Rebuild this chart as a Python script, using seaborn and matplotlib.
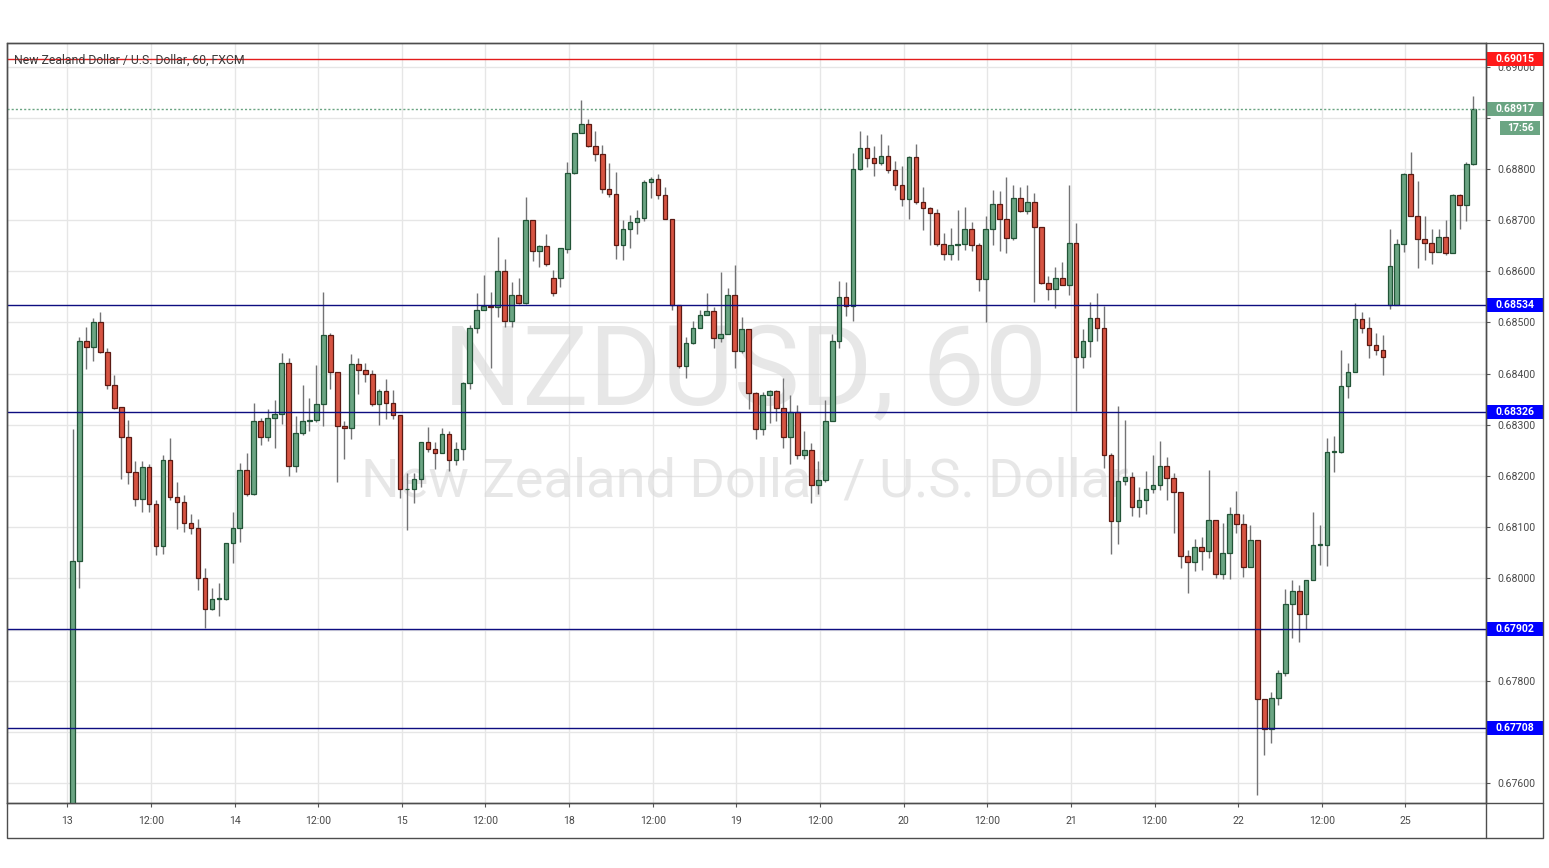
import numpy as np
import matplotlib
matplotlib.use("Agg")
import matplotlib.pyplot as plt
import matplotlib.transforms as mtransforms
from matplotlib.patches import Rectangle
from matplotlib.lines import Line2D
import seaborn as sns

sns.set_theme(style="white")
plt.rcParams['font.family'] = ['Roboto', 'DejaVu Sans']

# ---------------- data (hourly candles, index 0 = 13th 01:00) ----------------
opens = [0.6752, 0.68034, 0.68463, 0.68453, 0.68500, 0.68443, 0.68378, 0.68334, 0.68276, 0.68208,
         0.68155, 0.68217, 0.68145, 0.68063, 0.68232, 0.68159, 0.68150, 0.68109, 0.68099, 0.68001,
         0.67940, 0.67960, 0.67960, 0.68070, 0.68099, 0.68212, 0.68165, 0.68308, 0.68276, 0.68313,
         0.68321, 0.68420, 0.68220, 0.68284, 0.68308, 0.68310, 0.68340, 0.68475, 0.68403, 0.68297,
         0.68293, 0.68418, 0.68408, 0.68399, 0.68340, 0.68367, 0.68342, 0.68320, 0.68174, 0.68175,
         0.68195, 0.68266, 0.68252, 0.68244, 0.68283, 0.68231, 0.68252, 0.68381, 0.68489, 0.68524,
         0.68533, 0.68531, 0.68601, 0.68503, 0.68554, 0.68539, 0.68700, 0.68640, 0.68650, 0.68587,
         0.68587, 0.68643, 0.68793, 0.68870, 0.68888, 0.68844, 0.68829, 0.68761, 0.68751, 0.68651,
         0.68683, 0.68697, 0.68705, 0.68775, 0.68780, 0.68749, 0.68703, 0.68534, 0.68415, 0.68460,
         0.68490, 0.68514, 0.68523, 0.68470, 0.68477, 0.68554, 0.68444, 0.68487, 0.68362, 0.68291,
         0.68358, 0.68366, 0.68332, 0.68276, 0.68326, 0.68242, 0.68250, 0.68182, 0.68193, 0.68307,
         0.68464, 0.68550, 0.68533, 0.68800, 0.68841, 0.68822, 0.68812, 0.68826, 0.68798, 0.68769,
         0.68741, 0.68824, 0.68735, 0.68724, 0.68714, 0.68653, 0.68634, 0.68651, 0.68653, 0.68683,
         0.68651, 0.68585, 0.68683, 0.68732, 0.68703, 0.68665, 0.68743, 0.68718, 0.68735, 0.68686,
         0.68578, 0.68565, 0.68587, 0.68573, 0.68656, 0.68433, 0.68464, 0.68508, 0.68490, 0.68241,
         0.68112, 0.68191, 0.68199, 0.68140, 0.68153, 0.68174, 0.68182, 0.68220, 0.68197, 0.68169,
         0.68043, 0.68032, 0.68062, 0.68054, 0.68114, 0.68008, 0.68050, 0.68125, 0.68107, 0.68022,
         0.68074, 0.67764, 0.67706, 0.67766, 0.67815, 0.67950, 0.67975, 0.67930, 0.67996, 0.68065,
         0.68066, 0.68247, 0.68247, 0.68376, 0.68403, 0.68506, 0.68489, 0.68457, 0.68446, 0.68534,
         0.68534, 0.68653, 0.68790, 0.68709, 0.68664, 0.68655, 0.68638, 0.68667, 0.68635, 0.68750,
         0.68730, 0.68810]
highs = [0.68291, 0.68472, 0.68491, 0.68509, 0.68520, 0.68450, 0.68397, 0.68334, 0.68310, 0.68230,
         0.68230, 0.68223, 0.68154, 0.68242, 0.68275, 0.68189, 0.68162, 0.68126, 0.68116, 0.68020,
         0.67981, 0.67991, 0.68070, 0.68130, 0.68225, 0.68244, 0.68342, 0.68314, 0.68330, 0.68348,
         0.68440, 0.68431, 0.68317, 0.68377, 0.68353, 0.68417, 0.68560, 0.68480, 0.68403, 0.68307,
         0.68439, 0.68430, 0.68421, 0.68407, 0.68370, 0.68389, 0.68369, 0.68320, 0.68206, 0.68206,
         0.68266, 0.68296, 0.68266, 0.68294, 0.68288, 0.68266, 0.68384, 0.68495, 0.68557, 0.68593,
         0.68559, 0.68668, 0.68624, 0.68580, 0.68587, 0.68745, 0.68700, 0.68652, 0.68672, 0.68602,
         0.68646, 0.68814, 0.68870, 0.68934, 0.68898, 0.68874, 0.68846, 0.68812, 0.68795, 0.68700,
         0.68711, 0.68720, 0.68778, 0.68785, 0.68790, 0.68764, 0.68703, 0.68534, 0.68472, 0.68503,
         0.68525, 0.68557, 0.68530, 0.68599, 0.68568, 0.68612, 0.68510, 0.68487, 0.68365, 0.68365,
         0.68368, 0.68368, 0.68391, 0.68358, 0.68339, 0.68288, 0.68264, 0.68229, 0.68348, 0.68477,
         0.68581, 0.68580, 0.68831, 0.68875, 0.68867, 0.68844, 0.68868, 0.68846, 0.68815, 0.68805,
         0.68826, 0.68848, 0.68765, 0.68726, 0.68722, 0.68675, 0.68685, 0.68720, 0.68726, 0.68697,
         0.68655, 0.68709, 0.68758, 0.68756, 0.68785, 0.68769, 0.68765, 0.68769, 0.68754, 0.68686,
         0.68590, 0.68609, 0.68619, 0.68769, 0.68694, 0.68487, 0.68540, 0.68557, 0.68533, 0.68244,
         0.68337, 0.68310, 0.68208, 0.68178, 0.68210, 0.68241, 0.68268, 0.68238, 0.68205, 0.68169,
         0.68056, 0.68076, 0.68081, 0.68212, 0.68114, 0.68109, 0.68139, 0.68171, 0.68125, 0.68104,
         0.68074, 0.67764, 0.67778, 0.67820, 0.67980, 0.67997, 0.67987, 0.67996, 0.68130, 0.68105,
         0.68274, 0.68278, 0.68446, 0.68421, 0.68539, 0.68521, 0.68511, 0.68480, 0.68476, 0.68682,
         0.68664, 0.68792, 0.68834, 0.68776, 0.68709, 0.68682, 0.68682, 0.68700, 0.68752, 0.68752,
         0.68813, 0.68943]
lows = [0.6748, 0.67981, 0.68409, 0.68424, 0.68440, 0.68371, 0.68330, 0.68195, 0.68185, 0.68142,
        0.68130, 0.68130, 0.68046, 0.68048, 0.68154, 0.68097, 0.68091, 0.68087, 0.67978, 0.67903,
        0.67938, 0.67927, 0.67958, 0.68030, 0.68072, 0.68160, 0.68163, 0.68260, 0.68268, 0.68255,
        0.68302, 0.68201, 0.68207, 0.68281, 0.68288, 0.68306, 0.68297, 0.68371, 0.68188, 0.68234,
        0.68273, 0.68361, 0.68384, 0.68337, 0.68299, 0.68312, 0.68312, 0.68157, 0.68094, 0.68148,
        0.68178, 0.68246, 0.68214, 0.68244, 0.68210, 0.68221, 0.68231, 0.68371, 0.68480, 0.68524,
        0.68411, 0.68510, 0.68491, 0.68491, 0.68537, 0.68537, 0.68621, 0.68609, 0.68611, 0.68551,
        0.68570, 0.68635, 0.68790, 0.68870, 0.68842, 0.68815, 0.68754, 0.68746, 0.68625, 0.68622,
        0.68645, 0.68673, 0.68699, 0.68743, 0.68742, 0.68703, 0.68524, 0.68412, 0.68392, 0.68458,
        0.68489, 0.68514, 0.68451, 0.68461, 0.68477, 0.68412, 0.68441, 0.68330, 0.68272, 0.68281,
        0.68304, 0.68307, 0.68254, 0.68223, 0.68234, 0.68234, 0.68148, 0.68164, 0.68189, 0.68307,
        0.68451, 0.68512, 0.68502, 0.68798, 0.68803, 0.68786, 0.68807, 0.68792, 0.68758, 0.68728,
        0.68702, 0.68732, 0.68681, 0.68652, 0.68650, 0.68623, 0.68623, 0.68623, 0.68642, 0.68639,
        0.68562, 0.68500, 0.68652, 0.68639, 0.68635, 0.68661, 0.68715, 0.68712, 0.68541, 0.68575,
        0.68544, 0.68528, 0.68573, 0.68553, 0.68327, 0.68411, 0.68433, 0.68463, 0.68215, 0.68048,
        0.68068, 0.68182, 0.68122, 0.68120, 0.68125, 0.68166, 0.68172, 0.68154, 0.68089, 0.68020,
        0.67972, 0.68014, 0.68017, 0.68039, 0.68001, 0.67999, 0.67998, 0.68088, 0.68003, 0.68022,
        0.67576, 0.67654, 0.67679, 0.67752, 0.67809, 0.67883, 0.67876, 0.67901, 0.67996, 0.68027,
        0.68024, 0.68207, 0.68244, 0.68352, 0.68403, 0.68480, 0.68430, 0.68437, 0.68397, 0.68527,
        0.68534, 0.68638, 0.68709, 0.68606, 0.68623, 0.68615, 0.68638, 0.68632, 0.68635, 0.68682,
        0.68698, 0.68808]
closes = [0.68034, 0.68463, 0.68453, 0.68500, 0.68442, 0.68377, 0.68332, 0.68276, 0.68208, 0.68155,
          0.68217, 0.68145, 0.68063, 0.68232, 0.68159, 0.68150, 0.68109, 0.68099, 0.68001, 0.67940,
          0.67960, 0.67961, 0.68070, 0.68099, 0.68212, 0.68165, 0.68308, 0.68276, 0.68313, 0.68321,
          0.68420, 0.68220, 0.68284, 0.68308, 0.68310, 0.68340, 0.68475, 0.68403, 0.68297, 0.68293,
          0.68418, 0.68408, 0.68399, 0.68340, 0.68367, 0.68342, 0.68320, 0.68174, 0.68175, 0.68195,
          0.68266, 0.68252, 0.68244, 0.68283, 0.68231, 0.68252, 0.68381, 0.68489, 0.68524, 0.68533,
          0.68531, 0.68601, 0.68503, 0.68554, 0.68539, 0.68700, 0.68640, 0.68650, 0.68614, 0.68558,
          0.68646, 0.68793, 0.68870, 0.68888, 0.68844, 0.68829, 0.68761, 0.68751, 0.68651, 0.68683,
          0.68697, 0.68705, 0.68775, 0.68780, 0.68749, 0.68703, 0.68534, 0.68415, 0.68460, 0.68490,
          0.68514, 0.68523, 0.68470, 0.68477, 0.68554, 0.68444, 0.68487, 0.68362, 0.68291, 0.68358,
          0.68366, 0.68332, 0.68276, 0.68326, 0.68242, 0.68250, 0.68182, 0.68193, 0.68307, 0.68464,
          0.68550, 0.68533, 0.68800, 0.68841, 0.68822, 0.68812, 0.68826, 0.68798, 0.68769, 0.68741,
          0.68824, 0.68735, 0.68724, 0.68714, 0.68653, 0.68634, 0.68651, 0.68653, 0.68683, 0.68651,
          0.68585, 0.68683, 0.68732, 0.68703, 0.68665, 0.68743, 0.68718, 0.68735, 0.68686, 0.68578,
          0.68565, 0.68587, 0.68573, 0.68656, 0.68433, 0.68464, 0.68508, 0.68490, 0.68241, 0.68112,
          0.68191, 0.68199, 0.68140, 0.68153, 0.68174, 0.68182, 0.68220, 0.68197, 0.68169, 0.68043,
          0.68032, 0.68062, 0.68054, 0.68114, 0.68008, 0.68050, 0.68125, 0.68107, 0.68022, 0.68074,
          0.67764, 0.67706, 0.67766, 0.67815, 0.67950, 0.67975, 0.67930, 0.67996, 0.68065, 0.68066,
          0.68247, 0.68247, 0.68376, 0.68403, 0.68506, 0.68489, 0.68457, 0.68446, 0.68433, 0.68610,
          0.68653, 0.68790, 0.68709, 0.68664, 0.68655, 0.68638, 0.68667, 0.68635, 0.68750, 0.68730,
          0.68810, 0.68917]

time_labels = ["13", "12:00", "14", "12:00", "15", "12:00", "18", "12:00", "19", "12:00",
               "20", "12:00", "21", "12:00", "22", "12:00", "25"]
price_ticks = [0.676, 0.677, 0.678, 0.679, 0.680, 0.681, 0.682, 0.683, 0.684, 0.685,
               0.686, 0.687, 0.688, 0.689, 0.690]
hidden_tick_labels = [0.677, 0.689]   # covered by the level boxes in the reference
support_levels = [0.68534, 0.68326, 0.67902, 0.67708]
resistance_level = 0.69015
last_price = 0.68917
countdown = "17:56"
title_text = "New Zealand Dollar / U.S. Dollar, 60, FXCM"
wm_symbol = "NZDUSD, 60"
wm_name = "New Zealand Dollar / U.S. Dollar"

# ---------------- figure ----------------
W, H = 1549, 868
fig = plt.figure(figsize=(W / 100, H / 100), dpi=100, facecolor="white")
L, R, T, B = 7, 1486, 43, 803
ax = fig.add_axes([L / W, 1 - B / H, (R - L) / W, (B - T) / H])
ax.set_facecolor("white")

df_o = np.array(opens); df_h = np.array(highs); df_l = np.array(lows); df_c = np.array(closes)
idx = np.arange(len(opens))
up = df_c >= df_o

GREEN, GREEN_E = "#6ba583", "#225437"
RED, RED_E = "#d75442", "#5b1a13"
WICK = "#737375"

ax.vlines(idx, df_l, df_h, color=WICK, lw=1.0, zorder=3)
bottom = np.minimum(df_o, df_c)
height = np.maximum(np.abs(df_c - df_o), 0.000012)
ax.bar(idx[up], height[up], bottom=bottom[up], width=0.66, color=GREEN,
       edgecolor=GREEN_E, linewidth=0.9, zorder=4)
ax.bar(idx[~up], height[~up], bottom=bottom[~up], width=0.66, color=RED,
       edgecolor=RED_E, linewidth=0.9, zorder=4)

ymin, ymax = 0.67561, 0.690462
ax.set_ylim(ymin, ymax)
ax.set_xlim(-9.4, 202.8)

# levels
for lv in support_levels:
    ax.axhline(lv, color="#0d0d80", lw=1.0, zorder=5)
ax.axhline(resistance_level, color="#e31b1b", lw=1.0, zorder=5)
ax.axhline(last_price, color="#6ba583", lw=1.0, ls=(0, (1.5, 1.5)), zorder=5)

# ticks
xt = [-0.75 + 12 * k for k in range(len(time_labels))]
ax.set_xticks(xt)
ax.set_xticklabels(time_labels)
ax.set_yticks(price_ticks)
ax.set_yticklabels(["" if any(abs(p - h) < 1e-9 for h in hidden_tick_labels) else f"{p:.5f}"
                    for p in price_ticks])
ax.yaxis.tick_right()
ax.tick_params(axis="y", which="both", right=True, left=False, length=3, width=0.8,
               color="#555555", labelsize=7.6, labelcolor="#4a4a4a", pad=5)
ax.tick_params(axis="x", which="both", bottom=True, length=3, width=0.8,
               color="#555555", labelsize=7.6, labelcolor="#4a4a4a", pad=6)
ax.grid(True, color="#e6e6e6", lw=1.0, zorder=0)
ax.set_axisbelow(True)
for s in ax.spines.values():
    s.set_color("#4d4d4d")
    s.set_linewidth(1.0)

# watermark
ax.text(0.499, 0.563, wm_symbol, transform=ax.transAxes, ha="center", va="center",
        fontsize=80, color="#d8d8d8", alpha=0.6, family=["Roboto", "DejaVu Sans"], zorder=1)
ax.text(0.499, 0.422, wm_name, transform=ax.transAxes, ha="center", va="center",
        fontsize=39, color="#d8d8d8", alpha=0.6, family=["Roboto", "DejaVu Sans"], zorder=1)

# title
fig.text(14 / W, 1 - 60 / H, title_text, ha="left", va="center", fontsize=8.8,
         color="#3b3b3b")

# price label boxes on the right axis
trans = mtransforms.blended_transform_factory(ax.transAxes, ax.transData)
px_per_price = (B - T) / (ymax - ymin)
box_h = 14 / px_per_price
x0 = (R + 1 - L) / (R - L)
x1 = (1543 - L) / (R - L)


def label_box(price, text, face, dy_px=0.0, xa=x0, xb=x1):
    yc = price - dy_px / px_per_price
    ax.add_patch(Rectangle((xa, yc - box_h / 2), xb - xa, box_h, transform=trans,
                           facecolor=face, edgecolor="none", clip_on=False, zorder=10))
    ax.text((xa + xb) / 2, yc, text, transform=trans, ha="center", va="center",
            fontsize=7.6, fontweight="bold", color="white", clip_on=False, zorder=11)


label_box(resistance_level, f"{resistance_level:.5f}", "#ff1a1a")
label_box(last_price, f"{last_price:.5f}", "#6ba583")
label_box(last_price, countdown, "#6ba583", dy_px=19, xa=(1500 - L) / (R - L), xb=(1540 - L) / (R - L))
for lv in support_levels:
    label_box(lv, f"{lv:.5f}", "#0000ff")

# outer frame and separators
frame_c = "#4d4d4d"
fig.add_artist(Rectangle((L / W, 1 - 838 / H), (1543 - L) / W, (838 - T) / H,
                         transform=fig.transFigure, fill=False, edgecolor=frame_c, lw=1.0))
fig.add_artist(Line2D([R / W, R / W], [1 - 838 / H, 1 - T / H], transform=fig.transFigure,
                      color=frame_c, lw=1.0))
fig.add_artist(Line2D([L / W, 1543 / W], [1 - B / H, 1 - B / H], transform=fig.transFigure,
                      color=frame_c, lw=1.0))

fig.savefig("out.png", dpi=100, facecolor="white")
